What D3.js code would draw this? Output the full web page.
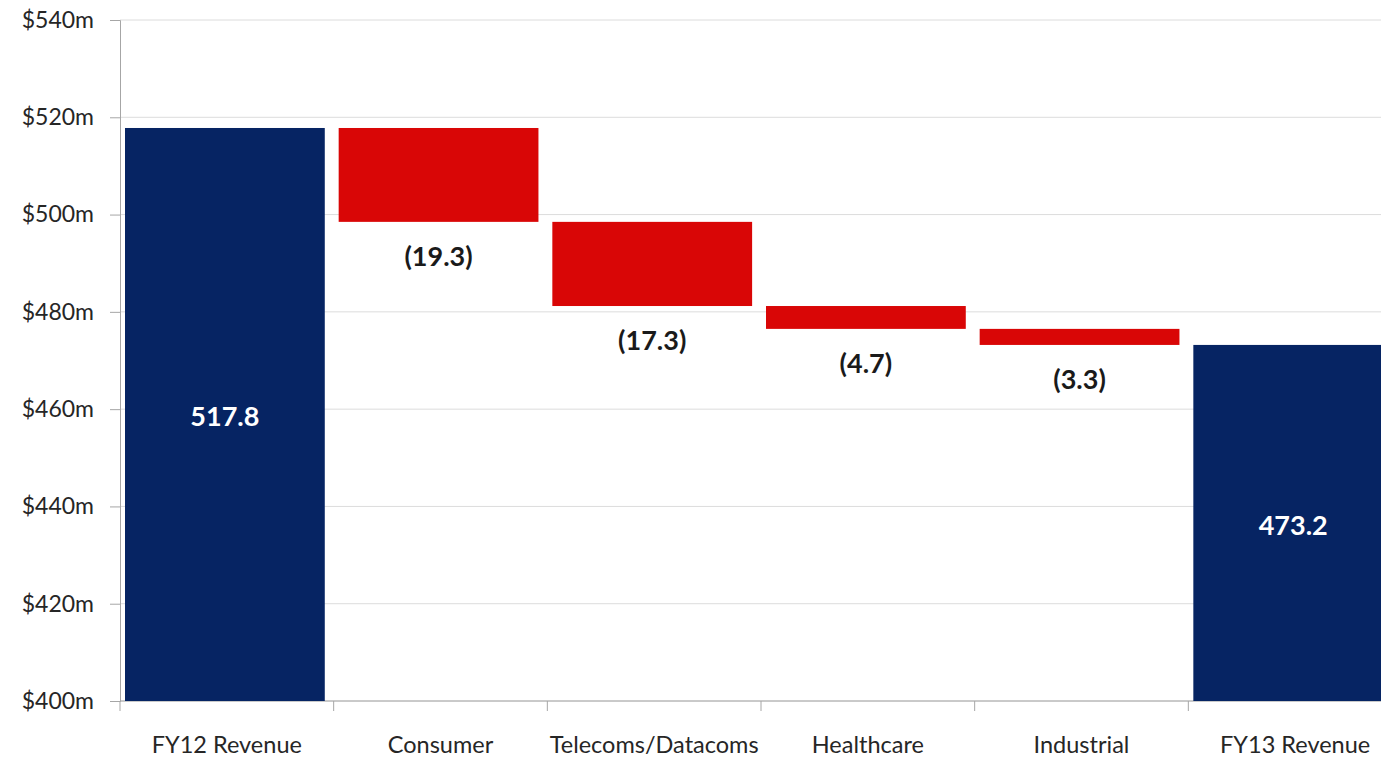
<!DOCTYPE html>
<html>
<head>
<meta charset="utf-8">
<script src="https://cdn.jsdelivr.net/npm/d3@7"></script>
<style>
  body { margin: 0; background: #fff; overflow: hidden; }
  svg { display: block; font-family: Lato, "Noto Sans", sans-serif; }
</style>
</head>
<body>
<div id="chart"></div>
<script>
// data
const categories = ["FY12 Revenue", "Consumer", "Telecoms/Datacoms", "Healthcare", "Industrial", "FY13 Revenue"]
const changes = [517.8, -19.3, -17.3, -4.7, -3.3, 473.2]
const isTotal = [true, false, false, false, false, true]
const yTicks = [400, 420, 440, 460, 480, 500, 520, 540]

const svgWidth = 1381
const svgHeight = 758

let margin = { top: 20, right: -21, bottom: 57, left: 120 }
let width = svgWidth - margin.left - margin.right
let height = svgHeight - margin.top - margin.bottom

let svg = d3.select("#chart")
  .append("svg")
  .attr("width", svgWidth)
  .attr("height", svgHeight)

let chartGroup = svg.append("g")
  .attr("transform", `translate(${margin.left}, ${margin.top})`)

// build waterfall steps
let running = 0
let steps = categories.map((c, i) => {
  let start, end
  if (isTotal[i]) { start = 400; end = changes[i]; running = changes[i] }
  else { start = running; end = running + changes[i]; running = end }
  return { cat: c, value: changes[i], start: start, end: end, total: isTotal[i] }
})

let x = d3.scaleBand()
  .domain(categories)
  .range([0, width])
  .paddingInner(0.065)
  .paddingOuter(0.0325)
  .align(0.36)

let y = d3.scaleLinear()
  .domain([400, 540])
  .range([height, 0])

// gridlines
chartGroup.append("g")
  .selectAll("line")
  .data(yTicks)
  .enter()
  .append("line")
  .attr("x1", 0)
  .attr("x2", width)
  .attr("y1", d => y(d))
  .attr("y2", d => y(d))
  .attr("stroke", "#dcdcdc")
  .attr("stroke-width", 1)

// y axis
let leftAxis = d3.axisLeft(y)
  .tickValues(yTicks)
  .tickSize(10)
  .tickPadding(16)
  .tickFormat(d => `$${d}m`)

let yAxis = chartGroup.append("g").call(leftAxis)
  .attr("font-family", null)
yAxis.select(".domain").attr("stroke", "#a6a6a6")
yAxis.selectAll(".tick line").attr("stroke", "#a6a6a6")
yAxis.selectAll("text")
  .attr("font-size", 23)
  .attr("fill", "#262626")

// x axis line and boundary ticks
chartGroup.append("line")
  .attr("x1", 0).attr("x2", width)
  .attr("y1", height).attr("y2", height)
  .attr("stroke", "#a6a6a6")

chartGroup.append("g")
  .selectAll("line")
  .data(d3.range(categories.length + 1))
  .enter()
  .append("line")
  .attr("x1", i => i * x.step())
  .attr("x2", i => i * x.step())
  .attr("y1", height)
  .attr("y2", height + 10)
  .attr("stroke", "#a6a6a6")

chartGroup.append("g")
  .selectAll("text")
  .data(categories)
  .enter()
  .append("text")
  .attr("x", (d, i) => (i + 0.5) * x.step())
  .attr("y", height + 52)
  .attr("text-anchor", "middle")
  .attr("font-size", 23.5)
  .attr("fill", "#262626")
  .text(d => d)

// bars
chartGroup.append("g")
  .selectAll("rect")
  .data(steps)
  .enter()
  .append("rect")
  .attr("x", d => x(d.cat))
  .attr("width", x.bandwidth())
  .attr("y", d => y(Math.max(d.start, d.end)))
  .attr("height", d => Math.abs(y(d.start) - y(d.end)))
  .attr("fill", d => d.total ? "#062463" : "#d90606")

// labels
chartGroup.append("g")
  .selectAll("text")
  .data(steps)
  .enter()
  .append("text")
  .attr("x", d => x(d.cat) + x.bandwidth() / 2)
  .attr("y", d => d.total ? y((d.start + d.end) / 2) + 12 : y(d.end) + 44)
  .attr("text-anchor", "middle")
  .attr("font-size", 27)
  .attr("font-weight", "bold")
  .attr("fill", d => d.total ? "#ffffff" : "#1a1a1a")
  .text(d => d.total ? d.value.toFixed(1) : `(${Math.abs(d.value).toFixed(1)})`)
</script>
</body>
</html>
